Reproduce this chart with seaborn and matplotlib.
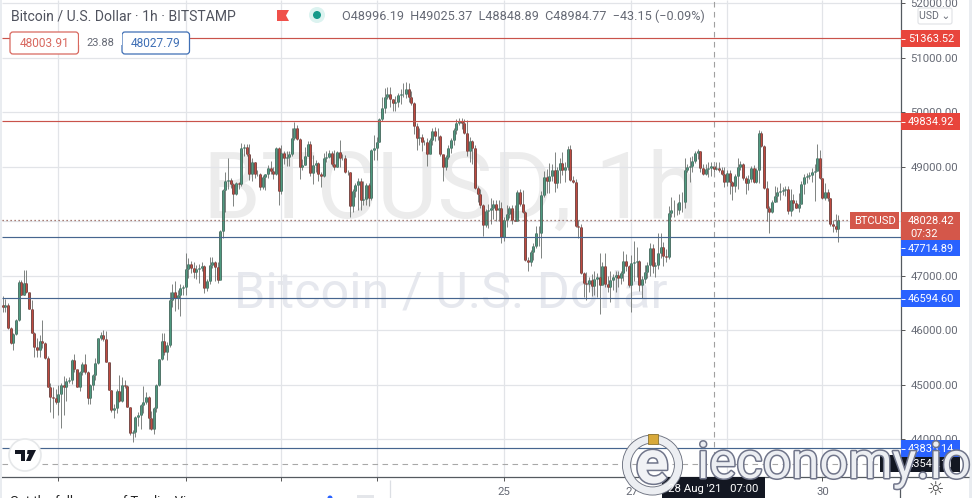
import matplotlib
matplotlib.use('Agg')
import numpy as np
import pandas as pd
import seaborn as sns
import matplotlib.pyplot as plt
import matplotlib.patheffects as pe
from matplotlib.patches import Rectangle, Circle, FancyBboxPatch, Polygon

# hourly BTCUSD candles
closes = [46440,46460,46040,45775,45930,46190,46895,46650,46865,46710,
    46390,45960,45700,45640,45805,45765,45490,44970,44775,44755,
    44695,44835,45000,44960,45080,45090,45460,45300,44970,45245,
    45385,45245,44755,45000,45180,45400,45855,45920,45840,45430,
    44910,44540,44570,44895,44710,45000,44975,44600,44115,44145,
    44420,44450,44630,44690,44785,44390,44200,44570,45000,45470,
    45810,45610,45730,46560,46710,46600,46650,46785,46790,47130,
    47215,47150,47070,47130,47140,47180,46785,46900,47200,47250,
    47170,46925,47830,48580,48745,48760,48680,48500,48700,48680,
    49340,49360,49230,48880,49100,48865,48880,48640,48820,48865,
    48975,48930,48880,49340,48560,49260,49160,49190,49230,49540,
    49710,49515,49005,49040,49200,49415,48885,49040,49067,48865,
    48840,49170,49190,49250,49050,48995,49270,49160,49170,48915,
    48900,48285,48565,48670,48745,48395,48405,48670,48425,49310,
    49340,49465,49875,50076,50290,50340,50240,50180,50200,50320,
    50340,50345,50425,50290,50180,49750,49540,49555,49465,49450,
    49240,49495,49665,49570,49575,49240,48995,49175,49340,49495,
    49680,49815,49850,49800,49620,49300,49470,49340,48610,48500,
    48300,47935,48200,48210,48240,48330,48220,48240,47720,48030,
    48140,48240,48030,48015,48545,48330,48180,47290,47260,47445,
    47550,47780,47785,48485,48820,48750,48835,48945,48700,48945,
    49080,48945,49000,49325,48770,48730,47920,47890,47060,46865,
    46860,46920,46815,46950,46985,46835,47185,46850,46800,46920,
    46975,47015,46955,47050,47280,47180,46835,47245,47260,47280,
    46835,46940,47080,47200,47510,47180,47200,47430,47540,47365,
    47340,48160,48210,48220,48210,48350,48355,48945,48995,49010,
    49110,49250,49295,48985,48880,48960,48975,49025,48960,48985,
    48945,48880,48720,48895,48720,48650,48840,49005,49050,48800,
    48700,48780,48985,48730,48945,49615,49390,48620,48255,48170,
    48360,48470,48535,48560,48580,48590,48190,48395,48335,48250,
    48330,48680,48820,48840,48850,48915,48925,49158,48805,48435,
    48535,48425,47945,47925,47870,48028]
highs = [46635,46570,46500,46060,45950,46220,46925,46925,47110,47110,
    46680,46560,45980,45855,45920,46190,45780,45530,45030,44960,
    44920,45000,45030,45165,45120,45140,45470,45570,45280,45260,
    45420,45570,45260,45010,45200,45500,45870,45980,46000,45990,
    45400,44900,44650,44930,45190,45140,45090,45000,44590,44170,
    44440,44500,44650,44990,44880,44800,44520,44590,45010,45480,
    45950,45950,45780,46700,46850,46900,46750,46850,46830,47415,
    47325,47270,47250,47200,47220,47250,47200,46950,47350,47350,
    47270,47250,47840,48590,48915,49170,48800,48700,48730,48720,
    49440,49430,49420,49430,49170,49100,48950,48890,48850,48880,
    49030,49110,49000,49370,49370,49400,49300,49300,49290,49710,
    49830,49770,49530,49150,49360,49470,49470,49220,49130,49090,
    48900,49250,49300,49310,49300,49310,49300,49500,49230,49220,
    48950,48900,48600,48700,48800,48800,48750,48700,48700,49330,
    49590,49550,49900,50280,50450,50460,50470,50250,50300,50360,
    50430,50550,50560,50540,50400,50190,49800,49720,49600,49500,
    49540,49540,49720,49740,49710,49590,49190,49220,49400,49530,
    49720,49880,49890,49900,49880,49870,49550,49500,49400,48650,
    48600,48330,48230,48320,48425,48400,48400,48400,48350,48080,
    48300,48290,48300,48300,48570,48600,48580,48200,47340,47480,
    47600,47920,47920,48560,48930,48960,49080,49060,49270,49000,
    49160,49270,49100,49380,49400,48830,48780,48020,47950,47070,
    47080,46980,47030,47100,47060,47420,47260,47430,47000,47100,
    47040,47100,47100,47100,47450,47400,47200,47380,47650,47540,
    47300,47000,47200,47260,47600,47580,47260,47795,47790,47620,
    47500,48290,48450,48400,48340,48500,48550,49170,49050,49180,
    49200,49300,49330,49300,49050,49050,49100,49100,49100,49100,
    49100,49000,49000,48950,48950,48750,48870,49170,49110,49080,
    48830,48850,49020,49030,48990,49680,49660,49400,48750,48280,
    48400,48650,48640,48700,48640,48660,48660,48600,48500,48390,
    48530,48740,48880,48890,48900,48980,49060,49420,49320,48800,
    48700,48600,48440,48020,48130,48120]
lows = [46345,46345,46020,45750,45640,45920,46180,46650,46650,46680,
    46390,45950,45520,45510,45520,45670,45470,44960,44510,44400,
    44660,44450,44220,44450,44710,45030,45020,45240,44960,44890,
    45180,45200,44660,44650,44900,45100,45390,45830,45800,45420,
    44900,44500,44400,44480,44690,44680,44950,44590,44080,43950,
    44050,44250,44200,44490,44660,44190,44180,44110,44500,44990,
    45450,45550,45450,45700,46430,46360,46400,46270,46650,46650,
    46960,47050,46960,46950,46865,47100,46680,46730,46850,47150,
    46900,46870,47100,47700,48180,48600,48620,48290,48480,48600,
    48650,49200,49200,48760,48750,48800,48830,48570,48590,48580,
    48800,48880,48780,48850,48300,48500,49050,49020,49010,49200,
    49500,49490,48780,48950,49030,49200,48840,48680,48900,48740,
    48630,48820,49100,49170,49010,48940,49000,49000,49130,48890,
    48860,48080,48180,48450,48210,48210,48300,48300,48290,48400,
    49130,49130,49450,49840,49990,50250,50100,50020,50020,50100,
    50150,50290,50260,50190,50130,49600,49310,49400,49290,49400,
    49020,49280,49400,49480,49500,49200,48750,48950,49150,49250,
    49400,49600,49770,49700,49600,49200,49090,49050,48600,48350,
    48250,47740,47900,47880,47950,48050,48000,48000,47600,47650,
    47900,48060,47950,48000,48240,48290,48160,47280,47100,47180,
    47300,47520,47550,47330,48450,48520,48520,48750,48550,48620,
    48700,48850,48720,48950,48740,48700,47900,47700,47040,46620,
    46560,46700,46640,46650,46620,46300,46900,46800,46700,46520,
    46750,46710,46800,46850,46900,47100,46800,46340,46900,46980,
    46720,46600,46880,46960,47000,47050,46980,47120,47330,47180,
    47250,47310,48080,48090,48120,48130,48170,48250,48900,48720,
    48900,49080,49150,48900,48850,48850,48820,48830,48900,48950,
    48900,48850,48640,48650,48510,48400,48550,48600,48950,48770,
    48510,48580,48720,48700,48700,48700,49370,48600,48000,47780,
    48150,48350,48350,48400,48480,48470,48130,48100,48220,48240,
    48180,48380,48500,48700,48780,48720,48370,48950,48780,48420,
    48400,48380,47920,47810,47810,47630]
first_open = 46470

red_levels = [51363.52, 49834.92]
blue_levels = [47714.89, 46594.60, 43835.14]
last_price = 48028.42
cross_price = 43550
cross_hour = 268
price_ticks = [44000, 45000, 46000, 47000, 48000, 49000, 50000, 51000, 52000]
grid_hours = [21, 69, 105, 141, 189, 237, 273, 309]
hour_labels = ['', '', '', '', '25', '27', '', '30']

opens = [first_open] + closes[:-1]
df = pd.DataFrame({'hour': range(len(closes)), 'open': opens, 'close': closes, 'high': highs, 'low': lows})
df['dir'] = np.where(df['close'] >= df['open'], 'up', 'down')
wicks = df.melt(id_vars=['hour'], value_vars=['low', 'high'], value_name='price')
bodies = df.melt(id_vars=['hour', 'dir'], value_vars=['open', 'close'], value_name='price')

sns.set_theme(style='white')
plt.rcParams['font.family'] = ['Roboto', 'DejaVu Sans']
plt.rcParams['lines.solid_capstyle'] = 'butt'
GREY = '#666a75'
RED = '#e8453c'
BLUE = '#2962ff'
LINE_RED = '#c9534b'
LINE_BLUE = '#46658f'

fig = plt.figure(figsize=(9.72, 4.98), dpi=100, facecolor='white')

# pixel space layers, below and above the chart
def pixel_axes(z):
    a = fig.add_axes([0, 0, 1, 1], zorder=z)
    a.set_xlim(0, 972)
    a.set_ylim(498, 0)
    a.axis('off')
    return a

under = pixel_axes(0)
over = pixel_axes(5)
under.text(451, 192, 'BTCUSD, 1h', fontsize=67, color='#ececec', ha='center', va='center')
under.text(451, 293, 'Bitcoin / U.S. Dollar', fontsize=36.3, color='#e6e8ee', ha='center', va='center')

ax = fig.add_axes([2 / 972, 21 / 498, 898.5 / 972, 477 / 498], zorder=1)
ax.patch.set_alpha(0)
sns.lineplot(data=wicks, x='hour', y='price', units='hour', estimator=None, color='#6a6f6c',
             linewidth=0.6, legend=False, ax=ax)
sns.lineplot(data=bodies, x='hour', y='price', units='hour', estimator=None, hue='dir',
             palette={'up': '#2f4f45', 'down': '#4a2a28'}, linewidth=1.9, legend=False, ax=ax)
sns.lineplot(data=bodies, x='hour', y='price', units='hour', estimator=None, hue='dir',
             palette={'up': '#4f9a80', 'down': '#c04a40'}, linewidth=1.0, legend=False, ax=ax)

for v in red_levels:
    ax.axhline(v, color=LINE_RED, lw=0.85, zorder=4)
for v in blue_levels:
    ax.axhline(v, color=LINE_BLUE, lw=0.85, zorder=4)
ax.plot([-0.2, 319], [last_price, last_price], color='#8a5248', lw=0.9, ls=(0, (1, 2.2)), zorder=4)
ax.axhline(cross_price, color='#a8a8a8', lw=0.8, ls=(0, (5, 4)), zorder=2)
ax.axvline(cross_hour, color='#a0a0a0', lw=0.8, ls=(0, (5, 4)), zorder=2)

ax.set_xlim(-0.226, 338.4)
ax.set_ylim(43311.9, 52064.2)
ax.set_xticks(grid_hours)
ax.set_xticklabels(hour_labels)
ax.set_yticks(price_ticks)
ax.set_yticklabels(['%.2f' % t if t != 48000 else '' for t in price_ticks])
ax.yaxis.tick_right()
ax.grid(True, color='#e2e4e8', lw=0.9)
ax.set_axisbelow(True)
ax.tick_params(axis='y', length=3, width=0.7, color='#555555', labelsize=8.2, labelcolor=GREY, pad=4, right=True)
ax.tick_params(axis='x', length=3, width=0.7, color='#555555', labelsize=8.2, labelcolor=GREY, pad=4, bottom=True)
ax.set_xlabel('')
ax.set_ylabel('')
for s in ['top', 'left']:
    ax.spines[s].set_visible(False)
for s in ['right', 'bottom']:
    ax.spines[s].set_color('#555a60')
    ax.spines[s].set_linewidth(0.9)

# side strips and scale rules
over.add_patch(Rectangle((0, 0), 2, 498, fc='#e9ecf0', ec='none'))
over.add_patch(Rectangle((969, 0), 3, 498, fc='#e9ecf0', ec='none'))
over.plot([900, 969], [477, 477], color='#555a60', lw=0.9)
over.plot([900.3, 900.3], [477, 498], color='#555a60', lw=0.9)
over.plot([389.5, 389.5], [480, 498], color='#dcdfe4', lw=0.9)

# header
over.text(11, 16, 'Bitcoin / U.S. Dollar · 1h · BITSTAMP', fontsize=10.1, color='#50535e', va='center')
over.add_patch(Polygon([(277, 10), (289, 10), (286, 15.5), (289, 21), (277, 21)], fc='#f0504a', ec='none'))
over.add_patch(Circle((317, 15), 8, fc='#dcf3f0', ec='none'))
over.add_patch(Circle((317, 15), 4, fc='#159a8a', ec='none'))
over.text(342, 16, 'O48996.19  H49025.37  L48848.89  C48984.77  −43.15 (−0.09%)', fontsize=9.1,
          color=GREY, va='center')

# bid / ask boxes
for x0, x1, col, txt in [(10, 78.5, '#d8685f', '48003.91'), (122, 189.5, '#3f6fb5', '48027.79')]:
    over.add_patch(FancyBboxPatch((x0, 32), x1 - x0, 22, boxstyle='round,pad=0,rounding_size=3', fc='white', ec=col, lw=0.9))
    over.text((x0 + x1) / 2, 43.5, txt, fontsize=8.6, color=col, ha='center', va='center')
over.add_patch(Rectangle((79, 31), 43, 14, fc='white', ec='none'))
over.text(100, 43, '23.88', fontsize=8, color=GREY, ha='center', va='center')

# scale labels
def scale_label(y0, y1, fc, txt, tc='white'):
    over.add_patch(Rectangle((901, y0), 59, y1 - y0, fc=fc, ec='none'))
    over.plot([901, 905], [(y0 + y1) / 2] * 2, color=tc, lw=0.7)
    over.text(954, (y0 + y1) / 2 + 0.5, txt, fontsize=7.9, color=tc, ha='right', va='center')

scale_label(30, 47, RED, '51363.52')
scale_label(113, 130, RED, '49834.92')
over.add_patch(Rectangle((901, 212), 59, 28, fc='#d4574a', ec='none'))
over.text(954, 221, '48028.42', fontsize=7.9, color='white', ha='right', va='center')
over.text(910, 234, '07:32', fontsize=7.9, color='white', ha='left', va='center')
over.add_patch(Rectangle((850, 212), 49, 17, fc='#d4574a', ec='none'))
over.text(874.5, 221, 'BTCUSD', fontsize=8, color='white', ha='center', va='center')
scale_label(240, 256, BLUE, '47714.89')
scale_label(290, 307, BLUE, '46594.60')
over.add_patch(Rectangle((880, 455), 80, 17, fc='#131722', ec='none'))
over.text(954, 464, '43544.11', fontsize=7.9, color='white', ha='right', va='center')
scale_label(440, 457, BLUE, '43835.14')

over.add_patch(FancyBboxPatch((918, 8), 34, 16, boxstyle='round,pad=0,rounding_size=2', fc='white', ec='#dfe1e5', lw=0.8))
over.text(935, 16, 'USD ⌄', fontsize=7.6, color=GREY, ha='center', va='center')

# crosshair time box
over.add_patch(Rectangle((662, 477), 103, 21, fc='#131722', ec='none'))
over.text(713.5, 489, "28 Aug '21   07:00", fontsize=8.2, color='white', ha='center', va='center')

# tradingview mark
over.add_patch(Circle((25, 455), 16, fc='white', ec='#e6e8ea', lw=1.2))
over.add_patch(Polygon([(15, 450), (25, 450), (25, 461), (21, 461), (21, 454), (15, 454)], fc='#131722', ec='none'))
over.add_patch(Polygon([(27.5, 450), (36, 450), (30.5, 461), (26, 461), (29, 454), (27, 454)], fc='#131722', ec='none'))
over.text(935, 489.5, '☼', fontsize=14, color='#444444', ha='center', va='center', family='DejaVu Sans')

# cut off promo line
over.text(10, 495, 'Get the full power of TradingView', fontsize=9.4, color='#222222', va='top')
over.add_patch(Circle((330, 498), 2.5, fc='#2962ff', ec='none'))
over.add_patch(Rectangle((357, 495), 17, 3, fc='#e4e6ea', ec='none'))

# ieconomy logo on top of everything
ring_fx = [pe.withStroke(linewidth=6.5, foreground='#6d7280')]
over.add_patch(Circle((652.5, 465), 26, fc='none', ec='#eceef2', lw=5.2, path_effects=ring_fx))
over.add_patch(Rectangle((648, 434), 10, 10, fc='#d8a93a', ec='#8d7430', lw=0.6))
logo_fx = [pe.withStroke(linewidth=2.2, foreground='#70758a')]
over.text(652, 466, 'e', fontsize=44, color='#f1f2f5', ha='center', va='center', weight='bold', path_effects=logo_fx)
over.text(697, 478, 'ieconomy.io', fontsize=36.4, color='#eceef2', ha='left', va='baseline', path_effects=logo_fx)

fig.savefig('out.png', dpi=100)
